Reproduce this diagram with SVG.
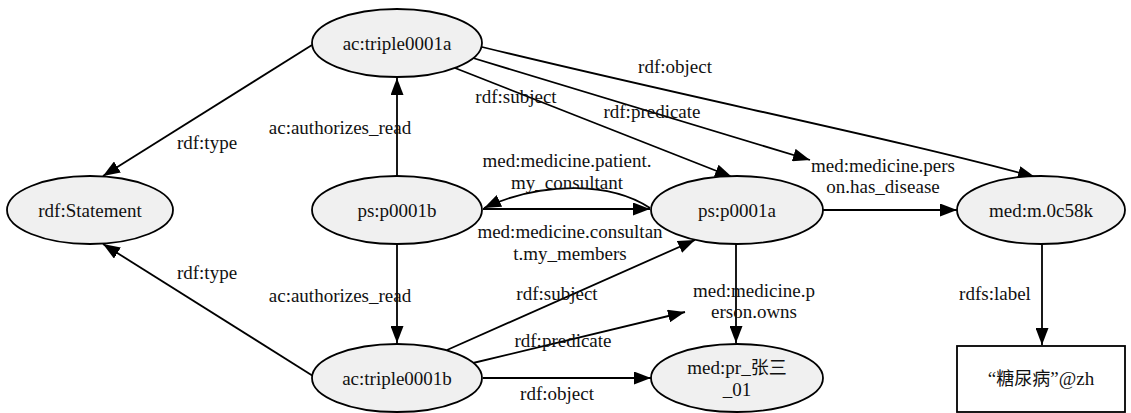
<svg xmlns="http://www.w3.org/2000/svg" width="1131" height="413" viewBox="0 0 1131 413">
  <defs>
    <marker id="arrow" markerUnits="userSpaceOnUse" markerWidth="17" markerHeight="13" refX="17" refY="6.5" orient="auto">
      <path d="M0,0 L17,6.5 L0,13 z" fill="#000"/>
    </marker>
    <style>
      text { font-family: "Liberation Serif", "Times New Roman", Times, serif; font-size: 19px; fill: #111; text-anchor: middle; }
      .cjk { font-family: "Noto Sans CJK SC", sans-serif; font-size: 18px; }
      .node ellipse { fill: #f0f0f0; stroke: #000; stroke-width: 1.8; }
      .node rect { fill: #fff; stroke: #000; stroke-width: 1.8; }
      #edges path { fill: none; stroke: #000; stroke-width: 1.8; marker-end: url(#arrow); }
    </style>
  </defs>
  <rect width="1131" height="413" fill="#fff"/>

  <!-- connectors -->
  <g id="edges">
    <path d="M312,45 L103,176"/>
    <path d="M313,376 L103,244"/>
    <path d="M397,176 L397,78"/>
    <path d="M397,244 L397,343"/>
    <path d="M455,68 L732,177"/>
    <path d="M473,58 L810,160"/>
    <path d="M482,47 C700,100 900,140 1035,177"/>
    <path d="M650,208 C612,183 545,180 484,208"/>
    <path d="M483,209 L650,209"/>
    <path d="M823,210 L957,210"/>
    <path d="M736,244 L736,343"/>
    <path d="M447,350 L695,240"/>
    <path d="M473,363 L685,312"/>
    <path d="M483,378 L651,378"/>
    <path d="M1042,243 L1042,345"/>
  </g>

  <!-- edge labels -->
  <g id="edge-labels">
    <text x="207" y="149">rdf:type</text>
    <text x="207" y="279">rdf:type</text>
    <text x="340" y="134">ac:authorizes_read</text>
    <text x="340" y="302">ac:authorizes_read</text>
    <text x="516" y="103">rdf:subject</text>
    <text x="652" y="118">rdf:predicate</text>
    <text x="675" y="73">rdf:object</text>
    <text x="567" y="167">med:medicine.patient.<tspan x="567" dy="22">my_consultant</tspan></text>
    <text x="570" y="238">med:medicine.consultan<tspan x="570" dy="22">t.my_members</tspan></text>
    <text x="883" y="172">med:medicine.pers<tspan x="883" dy="21">on.has_disease</tspan></text>
    <text x="754" y="297">med:medicine.p<tspan x="754" dy="21">erson.owns</tspan></text>
    <text x="557" y="300">rdf:subject</text>
    <text x="563" y="347">rdf:predicate</text>
    <text x="557" y="400">rdf:object</text>
    <text x="995" y="300">rdfs:label</text>
  </g>

  <!-- nodes -->
  <g id="ac_triple0001a" class="node">
    <ellipse cx="397" cy="43" rx="85" ry="34"/>
    <text x="397" y="50">ac:triple0001a</text>
  </g>
  <g id="rdf_Statement" class="node">
    <ellipse cx="90" cy="210" rx="83" ry="34"/>
    <text x="90" y="217">rdf:Statement</text>
  </g>
  <g id="ps_p0001b" class="node">
    <ellipse cx="397" cy="210" rx="85" ry="34"/>
    <text x="397" y="217">ps:p0001b</text>
  </g>
  <g id="ps_p0001a" class="node">
    <ellipse cx="737" cy="210" rx="86" ry="34"/>
    <text x="737" y="217">ps:p0001a</text>
  </g>
  <g id="med_m_0c58k" class="node">
    <ellipse cx="1041" cy="210" rx="84" ry="34"/>
    <text x="1041" y="217">med:m.0c58k</text>
  </g>
  <g id="ac_triple0001b" class="node">
    <ellipse cx="397" cy="378" rx="85" ry="34"/>
    <text x="397" y="385">ac:triple0001b</text>
  </g>
  <g id="med_pr_zhangsan_01" class="node">
    <ellipse cx="737" cy="378" rx="86" ry="34"/>
    <text x="737" y="374">med:pr_<tspan class="cjk">张三</tspan><tspan x="737" dy="22">_01</tspan></text>
  </g>
  <g id="label_tangniaobing" class="node">
    <rect x="957" y="346" width="168" height="66"/>
    <text x="1041" y="385">“<tspan class="cjk">糖尿病</tspan>”@zh</text>
  </g>
</svg>
